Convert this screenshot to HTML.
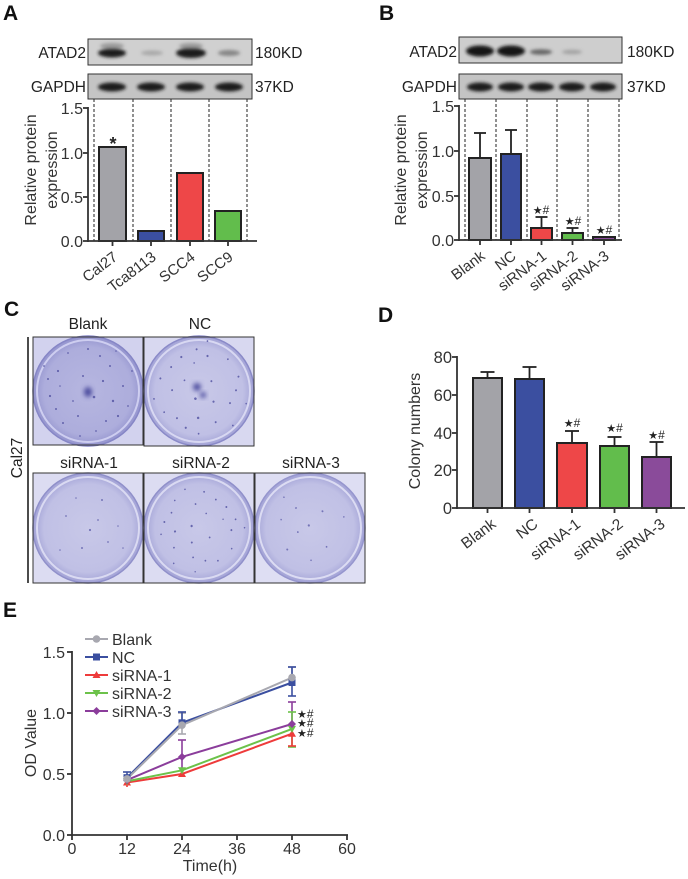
<!DOCTYPE html>
<html><head><meta charset="utf-8"><style>
html,body{margin:0;padding:0;background:#fff;}
svg{display:block;font-family:"Liberation Sans",Arial,sans-serif;}
</style></head><body>
<svg width="688" height="879" viewBox="0 0 688 879" xmlns="http://www.w3.org/2000/svg">
<defs>
<filter id="bl" x="-50%" y="-150%" width="200%" height="400%"><feGaussianBlur stdDeviation="1.5"/></filter>
<filter id="bl3" x="-50%" y="-50%" width="200%" height="200%"><feGaussianBlur stdDeviation="2.5"/></filter>
<radialGradient id="pd" cx="50%" cy="50%" r="50%">
 <stop offset="0" stop-color="#b6b6e0"/><stop offset="0.8" stop-color="#adaddc"/><stop offset="1" stop-color="#9494ce"/>
</radialGradient>
<radialGradient id="pl" cx="50%" cy="50%" r="50%">
 <stop offset="0" stop-color="#c8c8e8"/><stop offset="0.8" stop-color="#c0c0e5"/><stop offset="1" stop-color="#a2a2d6"/>
</radialGradient>
<g id="dots" fill="#5050a0" opacity="0.8">
 <circle cx="-30" cy="-20" r="1.1"/><circle cx="12" cy="-35" r="1"/><circle cx="25" cy="10" r="1.2"/>
 <circle cx="-10" cy="25" r="1"/><circle cx="35" cy="-5" r="1"/><circle cx="-38" cy="5" r="1.1"/>
 <circle cx="6" cy="6" r="1.3"/><circle cx="-20" cy="-38" r="0.9"/><circle cx="18" cy="30" r="1"/>
 <circle cx="-5" cy="-15" r="1"/><circle cx="30" cy="25" r="1.1"/><circle cx="-25" cy="32" r="1"/>
 <circle cx="40" cy="15" r="0.9"/><circle cx="0" cy="-42" r="1"/><circle cx="-40" cy="-12" r="1"/>
 <circle cx="15" cy="-10" r="1.1"/><circle cx="-15" cy="10" r="0.9"/><circle cx="22" cy="-25" r="1"/>
 <circle cx="-32" cy="18" r="1"/><circle cx="8" cy="40" r="0.9"/>
 <circle cx="-44" cy="-25" r="0.9"/><circle cx="44" cy="-20" r="0.9"/><circle cx="-8" cy="45" r="0.9"/>
 <circle cx="28" cy="-40" r="0.8"/><circle cx="-28" cy="-5" r="0.8"/>
</g>
<g id="dots2" fill="#5a5aa8" opacity="0.75">
 <circle cx="-22" cy="-12" r="0.9"/><circle cx="14" cy="-28" r="1"/><circle cx="20" cy="14" r="0.9"/>
 <circle cx="-6" cy="20" r="1"/><circle cx="30" cy="-2" r="0.8"/><circle cx="2" cy="2" r="1.1"/>
 <circle cx="-28" cy="22" r="0.8"/><circle cx="10" cy="-8" r="0.9"/><circle cx="-12" cy="-30" r="0.8"/>
 <circle cx="35" cy="20" r="0.8"/>
</g>
</defs>

<!-- ============ Panel A ============ -->
<text x="3" y="20" font-size="21" font-weight="bold" fill="#111">A</text>
<text x="86" y="58" font-size="15.5" text-anchor="end" fill="#222">ATAD2</text>
<text x="86" y="92" font-size="15.5" text-anchor="end" fill="#222">GAPDH</text>
<text x="255" y="58" font-size="15.5" fill="#222">180KD</text>
<text x="255" y="92" font-size="15.5" fill="#222">37KD</text>
<rect x="88" y="39" width="164" height="26" fill="#d0d0d0"/>
<g filter="url(#bl)">
 <ellipse cx="112" cy="53" rx="14" ry="4.5" fill="#1a1a1a"/>
 <ellipse cx="112" cy="46" rx="12" ry="3" fill="#777" opacity="0.6"/>
 <ellipse cx="152" cy="53" rx="11" ry="2.5" fill="#888" opacity="0.55"/>
 <ellipse cx="191" cy="53" rx="15" ry="5" fill="#1a1a1a"/>
 <ellipse cx="191" cy="46" rx="12" ry="3" fill="#777" opacity="0.6"/>
 <ellipse cx="229" cy="53" rx="11" ry="3" fill="#555" opacity="0.6"/>
</g>
<rect x="88" y="39" width="164" height="26" fill="none" stroke="#333" stroke-width="1"/>
<rect x="88" y="74" width="164" height="25" fill="#c4c4c4"/>
<g filter="url(#bl)">
 <ellipse cx="112" cy="87" rx="14" ry="4.5" fill="#1a1a1a"/>
 <ellipse cx="151" cy="87" rx="14" ry="4.5" fill="#1a1a1a"/>
 <ellipse cx="190" cy="87" rx="14" ry="4.5" fill="#1a1a1a"/>
 <ellipse cx="229" cy="87" rx="14" ry="4.5" fill="#1a1a1a"/>
</g>
<rect x="88" y="74" width="164" height="25" fill="none" stroke="#333" stroke-width="1"/>
<g stroke="#222" stroke-width="1" stroke-dasharray="3,2">
 <line x1="94" y1="99" x2="94" y2="241"/><line x1="133" y1="99" x2="133" y2="241"/>
 <line x1="171" y1="99" x2="171" y2="241"/><line x1="209" y1="99" x2="209" y2="241"/>
 <line x1="247" y1="99" x2="247" y2="241"/>
</g>
<g stroke="#222" stroke-width="2">
 <rect x="99" y="147" width="27" height="94" fill="#a3a3a8"/>
 <rect x="138" y="231" width="26" height="10" fill="#3b4fa0"/>
 <rect x="177" y="173" width="26" height="68" fill="#ee4748"/>
 <rect x="215" y="211" width="26" height="30" fill="#62bd4c"/>
</g>
<g stroke="#333" stroke-width="1.8" fill="none">
 <line x1="88" y1="107" x2="88" y2="242"/>
 <line x1="87" y1="241" x2="257" y2="241"/>
 <line x1="83" y1="108" x2="88" y2="108"/><line x1="83" y1="153" x2="88" y2="153"/>
 <line x1="83" y1="197" x2="88" y2="197"/><line x1="83" y1="241" x2="88" y2="241"/>
 <line x1="112.5" y1="241" x2="112.5" y2="246"/><line x1="151" y1="241" x2="151" y2="246"/>
 <line x1="190" y1="241" x2="190" y2="246"/><line x1="228" y1="241" x2="228" y2="246"/>
</g>
<g font-size="16" fill="#333" text-anchor="end">
 <text x="83" y="114">1.5</text><text x="83" y="159">1.0</text>
 <text x="83" y="203">0.5</text><text x="83" y="247">0.0</text>
</g>
<text x="113" y="150" font-size="18" font-weight="bold" text-anchor="middle" fill="#222">*</text>
<g font-size="16" fill="#333" text-anchor="middle">
 <text transform="translate(36,170) rotate(-90)">Relative protein</text>
 <text transform="translate(57,170) rotate(-90)">expression</text>
</g>
<g font-size="15" fill="#333" text-anchor="end">
 <text transform="translate(118.5,259) rotate(-37)">Cal27</text>
 <text transform="translate(157,259) rotate(-37)">Tca8113</text>
 <text transform="translate(196,259) rotate(-37)">SCC4</text>
 <text transform="translate(234,259) rotate(-37)">SCC9</text>
</g>

<!-- ============ Panel B ============ -->
<text x="379" y="20" font-size="21" font-weight="bold" fill="#111">B</text>
<text x="457" y="57" font-size="15.5" text-anchor="end" fill="#222">ATAD2</text>
<text x="457" y="92" font-size="15.5" text-anchor="end" fill="#222">GAPDH</text>
<text x="627" y="57" font-size="15.5" fill="#222">180KD</text>
<text x="627" y="92" font-size="15.5" fill="#222">37KD</text>
<rect x="459" y="37" width="163" height="26" fill="#cecece"/>
<g filter="url(#bl)">
 <ellipse cx="480" cy="51" rx="14" ry="5.5" fill="#151515"/>
 <ellipse cx="511" cy="51" rx="14" ry="5.5" fill="#151515"/>
 <ellipse cx="541" cy="52" rx="11" ry="2.8" fill="#444" opacity="0.75"/>
 <ellipse cx="572" cy="52" rx="10" ry="2.3" fill="#777" opacity="0.5"/>
</g>
<rect x="459" y="37" width="163" height="26" fill="none" stroke="#333" stroke-width="1"/>
<rect x="459" y="74" width="163" height="25" fill="#c4c4c4"/>
<g filter="url(#bl)">
 <ellipse cx="480" cy="87" rx="13" ry="4.5" fill="#1a1a1a"/>
 <ellipse cx="511" cy="87" rx="13" ry="4.5" fill="#1a1a1a"/>
 <ellipse cx="541" cy="87" rx="13" ry="4.5" fill="#1a1a1a"/>
 <ellipse cx="572" cy="87" rx="13" ry="4.5" fill="#1a1a1a"/>
 <ellipse cx="603" cy="87" rx="13" ry="4.5" fill="#1a1a1a"/>
</g>
<rect x="459" y="74" width="163" height="25" fill="none" stroke="#333" stroke-width="1"/>
<g stroke="#222" stroke-width="1" stroke-dasharray="3,2">
 <line x1="465" y1="99" x2="465" y2="240"/><line x1="496" y1="99" x2="496" y2="240"/>
 <line x1="527" y1="99" x2="527" y2="240"/><line x1="557" y1="99" x2="557" y2="240"/>
 <line x1="588" y1="99" x2="588" y2="240"/><line x1="619" y1="99" x2="619" y2="240"/>
</g>
<g stroke="#222" stroke-width="1.8">
 <line x1="480" y1="158" x2="480" y2="133"/><line x1="474" y1="133" x2="486" y2="133"/>
 <line x1="511" y1="154" x2="511" y2="130"/><line x1="505" y1="130" x2="517" y2="130"/>
 <line x1="541.5" y1="228" x2="541.5" y2="217"/><line x1="535.5" y1="217" x2="547.5" y2="217"/>
 <line x1="572.5" y1="233" x2="572.5" y2="228"/><line x1="566.5" y1="228" x2="578.5" y2="228"/>
</g>
<g stroke="#222" stroke-width="2">
 <rect x="469" y="158" width="22" height="82" fill="#a3a3a8"/>
 <rect x="501" y="154" width="20" height="86" fill="#3b4fa0"/>
 <rect x="531" y="228" width="21" height="12" fill="#ee4748"/>
 <rect x="562" y="233" width="21" height="7" fill="#62bd4c"/>
 <rect x="593" y="237" width="22" height="3" fill="#8a4b9a"/>
</g>
<g stroke="#333" stroke-width="1.8" fill="none">
 <line x1="459" y1="105" x2="459" y2="241"/>
 <line x1="458" y1="240" x2="622" y2="240"/>
 <line x1="454" y1="106" x2="459" y2="106"/><line x1="454" y1="151" x2="459" y2="151"/>
 <line x1="454" y1="196" x2="459" y2="196"/><line x1="454" y1="240" x2="459" y2="240"/>
 <line x1="480" y1="240" x2="480" y2="245"/><line x1="511" y1="240" x2="511" y2="245"/>
 <line x1="541.5" y1="240" x2="541.5" y2="245"/><line x1="572.5" y1="240" x2="572.5" y2="245"/>
 <line x1="604" y1="240" x2="604" y2="245"/>
</g>
<g font-size="16" fill="#333" text-anchor="end">
 <text x="454" y="112">1.5</text><text x="454" y="157">1.0</text>
 <text x="454" y="202">0.5</text><text x="454" y="246">0.0</text>
</g>
<g font-size="16" fill="#333" text-anchor="middle">
 <text transform="translate(406,170) rotate(-90)">Relative protein</text>
 <text transform="translate(427,170) rotate(-90)">expression</text>
</g>
<g font-size="12" fill="#222" text-anchor="middle">
 <text x="541" y="214"><tspan font-size="11" font-family="DejaVu Sans">★</tspan>#</text>
 <text x="573" y="225"><tspan font-size="11" font-family="DejaVu Sans">★</tspan>#</text>
 <text x="604" y="234"><tspan font-size="11" font-family="DejaVu Sans">★</tspan>#</text>
</g>
<g font-size="15" fill="#333" text-anchor="end">
 <text transform="translate(486,258) rotate(-37)">Blank</text>
 <text transform="translate(517,258) rotate(-37)">NC</text>
 <text transform="translate(547.5,258) rotate(-37)">siRNA-1</text>
 <text transform="translate(578.5,258) rotate(-37)">siRNA-2</text>
 <text transform="translate(610,258) rotate(-37)">siRNA-3</text>
</g>

<!-- ============ Panel C ============ -->
<text x="4" y="316" font-size="21" font-weight="bold" fill="#111">C</text>
<g font-size="15.5" fill="#222" text-anchor="middle">
 <text x="88" y="329">Blank</text><text x="200" y="329">NC</text>
 <text x="89" y="468">siRNA-1</text><text x="201" y="468">siRNA-2</text><text x="311" y="468">siRNA-3</text>
 <text transform="translate(22,458) rotate(-90)">Cal27</text>
</g>
<line x1="28" y1="337" x2="28" y2="583" stroke="#111" stroke-width="1.5"/>
<!-- plates -->
<g>
 <rect x="33" y="337" width="110" height="108" fill="#d2d2ee"/>
 <circle cx="88" cy="391" r="55" fill="url(#pd)" stroke="#8686c6" stroke-width="1.5"/>
 <circle cx="88" cy="391" r="51" fill="none" stroke="#cecef0" stroke-width="2"/>
 <use href="#dots" transform="translate(88,391)"/>
 <ellipse cx="88" cy="392" rx="4" ry="5" fill="#4a4a9c" filter="url(#bl3)"/>
 <rect x="33" y="337" width="110" height="108" fill="none" stroke="#333" stroke-width="1"/>
</g>
<g>
 <rect x="144" y="337" width="110" height="109" fill="#d8d8f0"/>
 <circle cx="199" cy="391" r="55" fill="url(#pl)" stroke="#8a8ac8" stroke-width="1.5"/>
 <circle cx="199" cy="391" r="51" fill="none" stroke="#d8d8f2" stroke-width="2"/>
 <use href="#dots" transform="translate(199,391) rotate(70)"/>
 <ellipse cx="197" cy="387" rx="4" ry="4" fill="#5050a0" filter="url(#bl3)"/>
 <ellipse cx="203" cy="395" rx="3" ry="3" fill="#5050a0" filter="url(#bl3)"/>
 <rect x="144" y="337" width="110" height="109" fill="none" stroke="#333" stroke-width="1"/>
</g>
<g>
 <rect x="33" y="473" width="110" height="110" fill="#dcdcf2"/>
 <circle cx="88" cy="528" r="55" fill="url(#pl)" stroke="#9090ca" stroke-width="1.5"/>
 <circle cx="88" cy="528" r="51" fill="none" stroke="#dadaf2" stroke-width="2"/>
 <use href="#dots2" transform="translate(88,528)"/>
 <rect x="33" y="473" width="110" height="110" fill="none" stroke="#333" stroke-width="1"/>
</g>
<g>
 <rect x="144" y="473" width="110" height="110" fill="#dcdcf2"/>
 <circle cx="199" cy="528" r="55" fill="url(#pl)" stroke="#9090ca" stroke-width="1.5"/>
 <circle cx="199" cy="528" r="51" fill="none" stroke="#dadaf2" stroke-width="2"/>
 <use href="#dots" transform="translate(199,528) rotate(150) scale(0.9)"/>
 <rect x="144" y="473" width="110" height="110" fill="none" stroke="#333" stroke-width="1"/>
</g>
<g>
 <rect x="255" y="473" width="110" height="110" fill="#dedef3"/>
 <circle cx="310" cy="528" r="55" fill="url(#pl)" stroke="#9696ce" stroke-width="1.5"/>
 <circle cx="310" cy="528" r="51" fill="none" stroke="#dcdcf3" stroke-width="2"/>
 <use href="#dots2" transform="translate(310,528) rotate(200)"/>
 <rect x="255" y="473" width="110" height="110" fill="none" stroke="#333" stroke-width="1"/>
</g>

<!-- ============ Panel D ============ -->
<text x="378" y="322" font-size="21" font-weight="bold" fill="#111">D</text>
<g stroke="#222" stroke-width="1.8">
 <line x1="487.5" y1="378" x2="487.5" y2="372"/><line x1="480.5" y1="372" x2="494.5" y2="372"/>
 <line x1="529.5" y1="379" x2="529.5" y2="367"/><line x1="522.5" y1="367" x2="536.5" y2="367"/>
 <line x1="572" y1="443" x2="572" y2="431"/><line x1="565" y1="431" x2="579" y2="431"/>
 <line x1="614.5" y1="446" x2="614.5" y2="437"/><line x1="607.5" y1="437" x2="621.5" y2="437"/>
 <line x1="656.5" y1="457" x2="656.5" y2="442"/><line x1="649.5" y1="442" x2="663.5" y2="442"/>
</g>
<g stroke="#222" stroke-width="2">
 <rect x="473" y="378" width="29" height="130" fill="#a3a3a8"/>
 <rect x="515" y="379" width="29" height="129" fill="#3b4fa0"/>
 <rect x="557" y="443" width="30" height="65" fill="#ee4748"/>
 <rect x="600" y="446" width="29" height="62" fill="#62bd4c"/>
 <rect x="642" y="457" width="29" height="51" fill="#8a4b9a"/>
</g>
<g stroke="#333" stroke-width="1.8" fill="none">
 <line x1="457" y1="356" x2="457" y2="509"/>
 <line x1="456" y1="508" x2="685" y2="508"/>
 <line x1="452" y1="357" x2="457" y2="357"/><line x1="452" y1="395" x2="457" y2="395"/>
 <line x1="452" y1="433" x2="457" y2="433"/><line x1="452" y1="470" x2="457" y2="470"/>
 <line x1="452" y1="508" x2="457" y2="508"/>
 <line x1="487.5" y1="508" x2="487.5" y2="513"/><line x1="529.5" y1="508" x2="529.5" y2="513"/>
 <line x1="572" y1="508" x2="572" y2="513"/><line x1="614.5" y1="508" x2="614.5" y2="513"/>
 <line x1="656.5" y1="508" x2="656.5" y2="513"/>
</g>
<g font-size="16.5" fill="#333" text-anchor="end">
 <text x="452" y="363">80</text><text x="452" y="401">60</text>
 <text x="452" y="439">40</text><text x="452" y="476">20</text><text x="452" y="514">0</text>
</g>
<text transform="translate(420,431) rotate(-90)" font-size="16" fill="#333" text-anchor="middle">Colony numbers</text>
<g font-size="12" fill="#222" text-anchor="middle">
 <text x="572" y="427"><tspan font-size="11" font-family="DejaVu Sans">★</tspan>#</text>
 <text x="614.5" y="432"><tspan font-size="11" font-family="DejaVu Sans">★</tspan>#</text>
 <text x="656.5" y="439"><tspan font-size="11" font-family="DejaVu Sans">★</tspan>#</text>
</g>
<g font-size="15.5" fill="#333" text-anchor="end">
 <text transform="translate(497,526) rotate(-37)">Blank</text>
 <text transform="translate(539,526) rotate(-37)">NC</text>
 <text transform="translate(581.5,526) rotate(-37)">siRNA-1</text>
 <text transform="translate(624,526) rotate(-37)">siRNA-2</text>
 <text transform="translate(666,526) rotate(-37)">siRNA-3</text>
</g>

<!-- ============ Panel E ============ -->
<text x="3" y="617" font-size="21" font-weight="bold" fill="#111">E</text>
<g stroke="#333" stroke-width="1.8" fill="none">
 <line x1="72" y1="651" x2="72" y2="836"/>
 <line x1="71" y1="835" x2="348" y2="835"/>
 <line x1="67" y1="652" x2="72" y2="652"/><line x1="67" y1="713" x2="72" y2="713"/>
 <line x1="67" y1="774" x2="72" y2="774"/><line x1="67" y1="835" x2="72" y2="835"/>
 <line x1="72" y1="835" x2="72" y2="840"/><line x1="127" y1="835" x2="127" y2="840"/>
 <line x1="182" y1="835" x2="182" y2="840"/><line x1="237" y1="835" x2="237" y2="840"/>
 <line x1="292" y1="835" x2="292" y2="840"/><line x1="347" y1="835" x2="347" y2="840"/>
</g>
<g font-size="16" fill="#333" text-anchor="end">
 <text x="65" y="658">1.5</text><text x="65" y="719">1.0</text>
 <text x="65" y="780">0.5</text><text x="65" y="841">0.0</text>
</g>
<g font-size="16" fill="#333" text-anchor="middle">
 <text x="72" y="854">0</text><text x="127" y="854">12</text><text x="182" y="854">24</text>
 <text x="237" y="854">36</text><text x="292" y="854">48</text><text x="347" y="854">60</text>
 <text x="210" y="871">Time(h)</text>
 <text transform="translate(36,743) rotate(-90)">OD Value</text>
</g>
<!-- error bars -->
<g stroke-width="1.6" fill="none">
 <g stroke="#a8a8b0">
  <line x1="182" y1="713" x2="182" y2="734"/><line x1="178" y1="713" x2="186" y2="713"/><line x1="178" y1="734" x2="186" y2="734"/>
  <line x1="292" y1="667" x2="292" y2="678"/><line x1="288" y1="667" x2="296" y2="667"/>
 </g>
 <g stroke="#3b4fa0">
  <line x1="127" y1="772" x2="127" y2="784"/><line x1="123" y1="772" x2="131" y2="772"/>
  <line x1="182" y1="712" x2="182" y2="723"/><line x1="178" y1="712" x2="186" y2="712"/>
  <line x1="292" y1="667" x2="292" y2="696"/><line x1="288" y1="667" x2="296" y2="667"/><line x1="288" y1="696" x2="296" y2="696"/>
 </g>
 <g stroke="#8b3d9b">
  <line x1="182" y1="740" x2="182" y2="774"/><line x1="178" y1="740" x2="186" y2="740"/>
  <line x1="292" y1="702" x2="292" y2="724"/><line x1="288" y1="702" x2="296" y2="702"/>
 </g>
 <g stroke="#6cc24a">
  <line x1="292" y1="712" x2="292" y2="747"/><line x1="288" y1="712" x2="296" y2="712"/><line x1="288" y1="747" x2="296" y2="747"/>
 </g>
 <g stroke="#ee3b3b">
  <line x1="292" y1="734" x2="292" y2="746"/><line x1="288" y1="746" x2="296" y2="746"/>
  <line x1="127" y1="782" x2="127" y2="787"/>
 </g>
</g>
<!-- lines -->
<g fill="none" stroke-width="2">
 <polyline points="127,782.5 182,774 292,733.7" stroke="#ee3b3b"/>
 <polyline points="127,781.3 182,770.3 292,728.9" stroke="#6cc24a"/>
 <polyline points="127,780.1 182,756.9 292,724" stroke="#8b3d9b"/>
 <polyline points="127,777.7 182,722.8 292,682.5" stroke="#3b4fa0"/>
 <polyline points="127,778.9 182,725.2 292,677.6" stroke="#a8a8b0"/>
</g>
<!-- markers -->
<g>
 <g fill="#ee3b3b"><path d="M127,778.5 l4,7 h-8z"/><path d="M182,770 l4,7 h-8z"/><path d="M292,729.7 l4,7 h-8z"/></g>
 <g fill="#6cc24a"><path d="M127,785.3 l4,-7 h-8z"/><path d="M182,774.3 l4,-7 h-8z"/><path d="M292,732.9 l4,-7 h-8z"/></g>
 <g fill="#8b3d9b"><path d="M127,776.1 l4,4 l-4,4 l-4,-4z"/><path d="M182,752.9 l4,4 l-4,4 l-4,-4z"/><path d="M292,720 l4,4 l-4,4 l-4,-4z"/></g>
 <g fill="#3b4fa0"><rect x="123.5" y="774.2" width="7" height="7"/><rect x="178.5" y="719.3" width="7" height="7"/><rect x="288.5" y="679" width="7" height="7"/></g>
 <g fill="#a8a8b0"><circle cx="127" cy="778.9" r="3.8"/><circle cx="182" cy="725.2" r="3.8"/><circle cx="292" cy="677.6" r="3.8"/></g>
</g>
<g font-size="12" fill="#222">
 <text x="297" y="718"><tspan font-size="11" font-family="DejaVu Sans">★</tspan>#</text>
 <text x="297" y="727"><tspan font-size="11" font-family="DejaVu Sans">★</tspan>#</text>
 <text x="297" y="737"><tspan font-size="11" font-family="DejaVu Sans">★</tspan>#</text>
</g>
<!-- legend -->
<g stroke-width="2">
 <line x1="85" y1="639" x2="108" y2="639" stroke="#a8a8b0"/><circle cx="96.5" cy="639" r="3.8" fill="#a8a8b0"/>
 <line x1="85" y1="657" x2="108" y2="657" stroke="#3b4fa0"/><rect x="93" y="653.5" width="7" height="7" fill="#3b4fa0"/>
 <line x1="85" y1="675" x2="108" y2="675" stroke="#ee3b3b"/><path d="M96.5,671 l4,7 h-8z" fill="#ee3b3b"/>
 <line x1="85" y1="693" x2="108" y2="693" stroke="#6cc24a"/><path d="M96.5,697 l4,-7 h-8z" fill="#6cc24a"/>
 <line x1="85" y1="711" x2="108" y2="711" stroke="#8b3d9b"/><path d="M96.5,707 l4,4 l-4,4 l-4,-4z" fill="#8b3d9b"/>
</g>
<g font-size="16" fill="#333">
 <text x="112" y="645">Blank</text><text x="112" y="663">NC</text>
 <text x="112" y="681">siRNA-1</text><text x="112" y="699">siRNA-2</text><text x="112" y="717">siRNA-3</text>
</g>
</svg>
</body></html>
